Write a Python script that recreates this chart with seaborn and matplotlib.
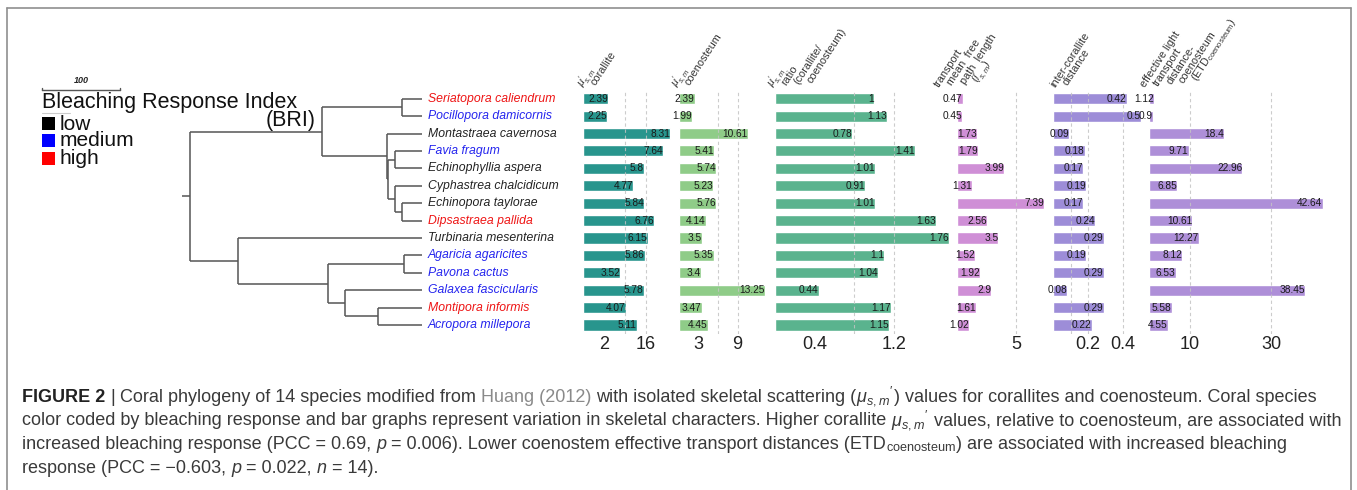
import matplotlib
matplotlib.use('Agg')
import numpy as np
import pandas as pd
import matplotlib.pyplot as plt
import seaborn as sns
from matplotlib.patches import Rectangle
from matplotlib.lines import Line2D

W, H = 1357, 490

species = ['Seriatopora caliendrum', 'Pocillopora damicornis', 'Montastraea cavernosa',
           'Favia fragum', 'Echinophyllia aspera', 'Cyphastrea chalcidicum',
           'Echinopora taylorae', 'Dipsastraea pallida', 'Turbinaria mesenterina',
           'Agaricia agaricites', 'Pavona cactus', 'Galaxea fascicularis',
           'Montipora informis', 'Acropora millepora']
bri = ['high', 'medium', 'low', 'medium', 'low', 'low', 'low', 'high', 'low',
       'medium', 'medium', 'medium', 'high', 'medium']

corallite = [2.39, 2.25, 8.31, 7.64, 5.8, 4.77, 5.84, 6.76, 6.15, 5.86, 3.52, 5.78, 4.07, 5.11]
coenosteum = [2.39, 1.99, 10.61, 5.41, 5.74, 5.23, 5.76, 4.14, 3.5, 5.35, 3.4, 13.25, 3.47, 4.45]
ratio = [1, 1.13, 0.78, 1.41, 1.01, 0.91, 1.01, 1.63, 1.76, 1.1, 1.04, 0.44, 1.17, 1.15]
transport = [0.47, 0.45, 1.73, 1.79, 3.99, 1.31, 7.39, 2.56, 3.5, 1.52, 1.92, 2.9, 1.61, 1.02]
inter = [0.42, 0.5, 0.09, 0.18, 0.17, 0.19, 0.17, 0.24, 0.29, 0.19, 0.29, 0.08, 0.29, 0.22]
etd = [1.12, 0.9, 18.4, 9.71, 22.96, 6.85, 42.64, 10.61, 12.27, 8.12, 6.53, 38.45, 5.58, 4.55]

# phylogeny: (node height, children), heights in tree units (scale bar = 100)
tree = (0, [
    (167.6, [
        (270.4, ['Seriatopora caliendrum', 'Pocillopora damicornis']),
        (250.6, ['Montastraea cavernosa',
                 (252.0, [(261.0, ['Favia fragum', 'Echinophyllia aspera']),
                          (261.0, ['Cyphastrea chalcidicum',
                                   (270.0, ['Echinopora taylorae', 'Dipsastraea pallida'])])])])]),
    (60.4, ['Turbinaria mesenterina',
            (176.1, [(272.8, ['Agaricia agaricites', 'Pavona cactus']),
                     (197.3, ['Galaxea fascicularis',
                              (239.7, ['Montipora informis', 'Acropora millepora'])])])])])
TIP = 296.4
ROOT_STUB = -10.3

df = pd.DataFrame({'species': species, 'corallite': corallite, 'coenosteum': coenosteum,
                   'ratio': ratio, 'transport': transport, 'inter': inter, 'etd': etd})

mu = r'$\mu^{\prime}_{s,m}$'
panels = [
    dict(col='corallite', color='#28958d', left=583, ppu=10.5, xmax=9, grid=[4, 6],
         ticks=[2, 6], labels=['2', '16'], head=[mu, 'corallite'], hx=0),
    dict(col='coenosteum', color='#8fcc88', left=679, ppu=6.5, xmax=14, grid=[6, 9],
         ticks=[3, 9], labels=['3', '9'], head=[mu, 'coenosteum'], hx=-2),
    dict(col='ratio', color='#5ab38e', left=775, ppu=99, xmax=1.8, grid=[0.8, 1.2],
         ticks=[0.4, 1.2], labels=['0.4', '1.2'],
         head=[mu, 'ratio', '(corallite/', 'coenosteum)'], hx=-2),
    dict(col='transport', color='#cf8fd6', left=957, ppu=11.8, xmax=8, grid=[5],
         ticks=[5], labels=['5'],
         head=['transport', 'mean  free', 'path  length', r'($l^{\prime}_{s,m}$)'], hx=-18),
    dict(col='inter', color='#9d8dd8', left=1053, ppu=175, xmax=0.52, grid=[0.1, 0.2, 0.4],
         ticks=[0.2, 0.4], labels=['0.2', '0.4'], head=['inter-corallite', 'distance'], hx=2),
    dict(col='etd', color='#ae8fd8', left=1149, ppu=4.07, xmax=45, grid=[10, 30],
         ticks=[10, 30], labels=['10', '30'],
         head=['effective light', 'transport', 'distance-', 'coenosteum',
               r'(ETD$_{\mathregular{coenosteum}}$)'], hx=-4),
]

bri_colors = {'low': '#222222', 'medium': '#2424ee', 'high': '#ee1414'}
legend_colors = {'low': '#000000', 'medium': '#0000ff', 'high': '#ff0000'}

sns.set_theme(style='white')
plt.rcParams['font.family'] = ['Liberation Sans', 'DejaVu Sans']
plt.rcParams['mathtext.fontset'] = 'custom'
plt.rcParams['mathtext.rm'] = 'Liberation Sans'
plt.rcParams['mathtext.it'] = 'Liberation Sans:italic'
plt.rcParams['mathtext.bf'] = 'Liberation Sans:bold'


def fx(px):
    return px / W


def fy(py):
    return 1 - py / H


TOP, BOT = 90.0, 333.7
fig = plt.figure(figsize=(W / 100, H / 100), dpi=100)
fig.patch.set_facecolor('white')

# ---- tree ----
tx0, tx1 = 182.2, 422.4
ax_t = fig.add_axes([fx(tx0), fy(BOT), (tx1 - tx0) / W, (BOT - TOP) / H])
ax_t.set_xlim(ROOT_STUB, TIP)
ax_t.set_ylim(13.5, -0.5)
ax_t.axis('off')
line_kw = dict(color='#555555', lw=1.1, solid_capstyle='butt')


def draw(node, parent_h):
    if isinstance(node, str):
        y = species.index(node)
        ax_t.plot([parent_h, TIP], [y, y], **line_kw)
        return y
    h, kids = node
    ys = [draw(k, h) for k in kids]
    y = (ys[0] + ys[-1]) / 2
    ax_t.plot([h, h], [ys[0], ys[-1]], **line_kw)
    ax_t.plot([parent_h, h], [y, y], **line_kw)
    return y


draw(tree, ROOT_STUB)

for i, (name, b) in enumerate(zip(species, bri)):
    ax_t.text(TIP + 7, i, name, style='italic', fontsize=8.8, color=bri_colors[b],
              va='center', ha='left', clip_on=False)

# scale bar (100 units)
sb0, sby = -189.6, -0.49
ax_t.plot([sb0, sb0 + 100], [sby, sby], color='#555555', lw=1.0, clip_on=False)
for e in (sb0, sb0 + 100):
    ax_t.plot([e, e], [sby, sby - 0.15], color='#555555', lw=1.0, clip_on=False)
ax_t.text(sb0 + 50, -1.03, '100', ha='center', va='center', fontsize=6.5,
          fontweight='bold', style='italic', clip_on=False)

# legend
fig.text(fx(41.5), fy(102), 'Bleaching Response Index', fontsize=15.5, va='center',
         ha='left', color='#111111')
fig.text(fx(316), fy(120), '(BRI)', fontsize=15.5, va='center', ha='right', color='#111111')
fig.add_artist(Line2D([fx(42), fx(70)], [fy(113), fy(113)], color='#cccccc', lw=0.8))
for k, (lab, yc) in enumerate(zip(['low', 'medium', 'high'], [124, 141, 158.5])):
    fig.add_artist(Rectangle((fx(41.8), fy(yc + 6.5)), 13 / W, 13 / H,
                             facecolor=legend_colors[lab], edgecolor='none',
                             transform=fig.transFigure))
    fig.text(fx(59.5), fy(yc), lab, fontsize=15, va='center', ha='left', color='#111111')

# ---- bar panels ----
for p in panels:
    ax = fig.add_axes([fx(p['left']), fy(BOT), p['ppu'] * p['xmax'] / W, (BOT - TOP) / H])
    sns.barplot(data=df, y='species', x=p['col'], color=p['color'], saturation=1,
                width=0.64, orient='h', ax=ax)
    ax.set_ylim(13.5, -0.5)
    ax.set_xlim(0, p['xmax'])
    ax.patch.set_visible(False)
    for s in ax.spines.values():
        s.set_visible(False)
    ax.set_yticks([])
    ax.set_ylabel('')
    ax.set_xlabel('')
    ax.set_xticks(p['ticks'], p['labels'])
    ax.tick_params(axis='x', length=0, pad=2, labelsize=13, colors='#222222')
    for g in p['grid']:
        ax.axvline(g, color='#c4c4c4', lw=0.8, ls=(0, (3, 2.5)), zorder=5, alpha=0.85)
    for i, v in enumerate(df[p['col']]):
        ax.text(v, i, f'{v:g}', ha='right', va='center', fontsize=7.3, color='#1a1a1a',
                zorder=6, clip_on=False)
    x0 = p['left'] + p['hx']
    for k, line in enumerate(p['head']):
        fig.text(fx(x0 + 13 * k), fy(88 - 1.5 * k), line, rotation=57,
                 rotation_mode='anchor', ha='left', va='baseline', fontsize=7.8,
                 color='#333333')

# ---- frame ----
fc = '#8f8f8f'
fig.add_artist(Line2D([fx(7.4), fx(7.4)], [fy(8), 0], color=fc, lw=1.2))
fig.add_artist(Line2D([fx(1351), fx(1351)], [fy(8), 0], color=fc, lw=1.2))
fig.add_artist(Line2D([fx(7.4), fx(1351)], [fy(8), fy(8)], color=fc, lw=1.2))

# ---- caption ----
CAP_FS = 12.95
renderer = fig.canvas.get_renderer()


def width_of(txt, **kw):
    t = fig.text(0, 0, txt, fontsize=CAP_FS, **kw)
    w = t.get_window_extent(renderer).width
    t.remove()
    return w


space_w = width_of('a a') - width_of('aa')

base = dict(color='#3a3a3a')
bold = dict(color='#222222', fontweight='bold')
grey = dict(color='#8a8a8a')
ital = dict(color='#3a3a3a', style='italic')
mu_cap = r'$\mu_{s,m}{}^{\prime}$'
caption = [
    (401.5, [('FIGURE 2', bold, True), ('|', base, True),
             ('Coral phylogeny of 14 species modified from', base, True),
             ('Huang (2012)', grey, True),
             ('with isolated skeletal scattering (', base, False),
             (mu_cap, base, False),
             (') values for corallites and coenosteum. Coral species', base, False)]),
    (425.0, [('color coded by bleaching response and bar graphs represent variation in '
              'skeletal characters. Higher corallite', base, True),
             (mu_cap, base, True),
             ('values, relative to coenosteum, are associated with', base, False)]),
    (449.0, [('increased bleaching response (PCC = 0.69,', base, True), ('p', ital, True),
             ('= 0.006). Lower coenostem effective transport distances (ETD', base, False),
             (r'$_{\mathregular{coenosteum}}$', base, False),
             (') are associated with increased bleaching', base, False)]),
    (472.5, [('response (PCC = \u22120.603,', base, True), ('p', ital, True),
             ('= 0.022,', base, True), ('n', ital, True), ('= 14).', base, False)]),
]
for yb, runs in caption:
    x = 22
    for txt, kw, gap in runs:
        t = fig.text(fx(x), fy(yb), txt, fontsize=CAP_FS, va='baseline', ha='left', **kw)
        x += t.get_window_extent(renderer).width + (space_w if gap else 0)

fig.savefig('out.png', dpi=100, facecolor='white')
